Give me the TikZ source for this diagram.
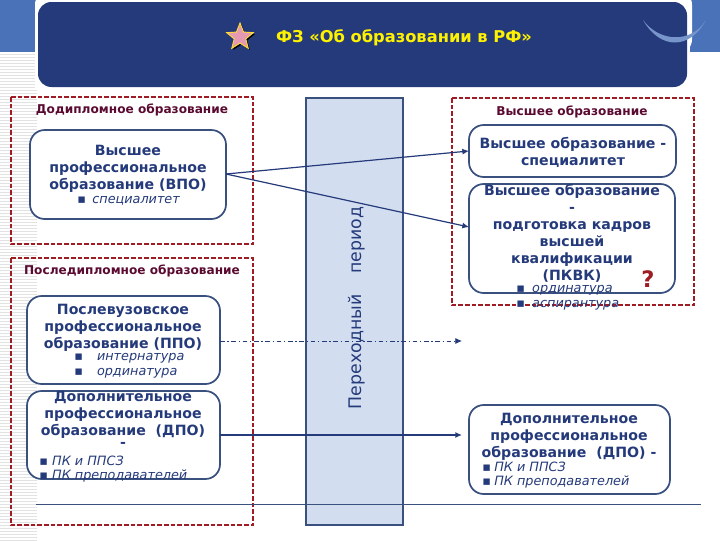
\documentclass[tikz,border=0pt]{standalone}
\usepackage{fontspec}
\setmainfont{DejaVu Sans}
\usetikzlibrary{shapes.geometric,arrows.meta}
\definecolor{navy}{HTML}{243A7A}
\definecolor{edge}{HTML}{3A5180}
\definecolor{bord}{HTML}{A01C24}
\definecolor{lab}{HTML}{5A0A30}
\definecolor{perfill}{HTML}{D3DDF0}
\definecolor{blues}{HTML}{4A72B8}
\definecolor{stripe}{HTML}{E2E2E2}
\tikzset{
 zone/.style={draw=bord,line width=1.1pt,dash pattern=on 3.4pt off 1.6pt},
 rbox/.style={draw=edge,line width=1.3pt,rounded corners=11pt,fill=white},
 zlabel/.style={font=\fontsize{9.1}{11}\selectfont\bfseries,text=lab,inner sep=0pt},
 btext/.style={font=\fontsize{10.6}{12.7}\selectfont\bfseries,text=navy,align=center,inner sep=0pt},
 itext/.style={font=\fontsize{9.6}{11}\selectfont\itshape,text=navy,inner sep=0pt,anchor=west},
 link/.style={draw=navy,line width=.9pt,-{Latex[length=5pt,width=4.5pt]}},
}
\begin{document}
\begin{tikzpicture}[x=0.75pt,y=-0.75pt]
\useasboundingbox (0,0) rectangle (720,540);
\fill[white] (0,0) rectangle (720,540);
% left stripes
\foreach \y in {54,57,...,540}{\draw[stripe,line width=.6pt] (0,\y) -- (37,\y);}
\fill[blues] (0,0) rectangle (36,52);
\fill[blues] (690,0) rectangle (720,52);
% header
\fill[white,rounded corners=11pt] (35,-10) rectangle (692,54);
\fill[white] (35,40) rectangle (38,90);
\fill[navy,rounded corners=10pt] (38,2) rectangle (687,87);
\fill[blues!75!white] (643,20) .. controls (660,50) and (690,50) .. (706,20) .. controls (692,43) and (660,43) .. (643,20) -- cycle;
\node[star,star points=5,star point ratio=2.3,minimum size=21pt,inner sep=0pt,fill=black] (starshadow) at (241.5,38.5) {};
\node[star,star points=5,star point ratio=2.3,minimum size=21pt,inner sep=0pt,fill=purple!40!white,draw=yellow!70!orange!80!white,line width=.7pt] (starmark) at (240,37) {};
\node[font=\fontsize{12.2}{14}\selectfont\bfseries,text=yellow,inner sep=0pt] (title) at (404,38) {ФЗ «Об образовании в РФ»};
% zones
\draw[zone] (11,97) rectangle (253,244);
\draw[zone] (11,258) rectangle (253,525);
\draw[zone] (452,98) rectangle (694,305);
\node[zlabel] (z1) at (132,109.5) {Додипломное образование};
\node[zlabel] (z2) at (132,270.5) {Последипломное образование};
\node[zlabel] (z3) at (572,111.5) {Высшее образование};
% period
\draw[draw=edge,line width=1.3pt,fill=perfill] (306,98) rectangle (403,525);
\draw[edge,line width=.6pt] (36,504) -- (701,504);
% boxes
\draw[rbox] (30,130) rectangle (226,219);
\draw[rbox] (27,296) rectangle (220,384);
\draw[rbox] (27,391) rectangle (220,479);
\draw[rbox] (469,125) rectangle (676,177);
\draw[rbox] (469,184) rectangle (675,293);
\draw[rbox] (469,405) rectangle (670,494);
\coordinate (vpoE) at (226,174);
\coordinate (spW) at (469,151);
\coordinate (pkW) at (469,227);
\coordinate (ppoE) at (220,341);
\coordinate (ppoEnd) at (462,341);
\coordinate (dpoE) at (220,435);
\coordinate (dpoEnd) at (462,435);
\draw[link] (vpoE) -- (spW);
\draw[link] (vpoE) -- (pkW);
\draw[link,line width=.6pt,dash pattern=on 3.5pt off 2pt on 1pt off 2pt] (ppoE) -- (ppoEnd);
\draw[link,line width=1.2pt] (dpoE) -- (dpoEnd);
\node[rotate=90,font=\fontsize{13}{15}\selectfont,text=navy,inner sep=0pt] (per) at (356.5,308) {Переходный\hspace{1.2em}период};
% texts
\node[btext] (t1) at (128,168.5) {Высшее\\профессиональное\\образование (ВПО)};
\node[itext] (t1a) at (77,201) {▪\hspace{.5em}специалитет};
\node[btext] (t2) at (123,327.5) {Послевузовское\\профессиональное\\образование (ППО)};
\node[itext] (t2a) at (74,358) {▪\hspace{1.1em}интернатура};
\node[itext] (t2b) at (74,373) {▪\hspace{1.1em}ординатура};
\node[btext] (t3) at (123,414.5) {Дополнительное\\профессиональное\\образование\hspace{.35em} (ДПО)};
\node[btext] (t3d) at (123,445) {-};
\node[itext] (t3a) at (39,461) {▪\hspace{.33em}ПК и ППСЗ};
\node[itext] (t3b) at (39,476) {▪\hspace{.33em}ПК преподавателей};
\node[btext] (t4) at (573,152) {Высшее образование -\\специалитет};
\node[btext] (t5) at (572,233.5) {Высшее образование\\-\\подготовка кадров\\высшей\\квалификации\\(ПКВК)};
\node[font=\fontsize{17}{18}\selectfont\bfseries,text=bord,inner sep=0pt] (q) at (648,279) {?};
\node[itext] (t5a) at (516,290) {▪\hspace{.57em}ординатура};
\node[itext] (t5b) at (516,305) {▪\hspace{.57em}аспирантура};
\node[btext] (t6) at (569,437) {Дополнительное\\профессиональное\\образование\hspace{.35em} (ДПО) -};
\node[itext] (t6a) at (482,467) {▪\hspace{.26em}ПК и ППСЗ};
\node[itext] (t6b) at (482,482) {▪\hspace{.26em}ПК преподавателей};
\end{tikzpicture}
\end{document}
